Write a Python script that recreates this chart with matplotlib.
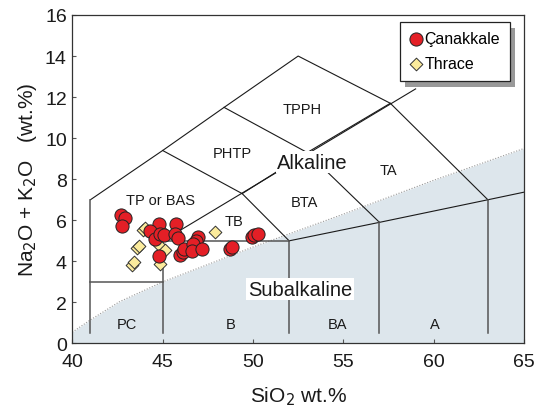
import matplotlib
matplotlib.use("Agg")
import matplotlib.pyplot as plt
from matplotlib.patches import Rectangle

plt.rcParams['font.family'] = ['Liberation Sans', 'DejaVu Sans']

# Data
can_sio2 = [42.68, 42.92, 42.73, 44.80, 44.30, 44.58, 44.85, 45.10, 44.82, 45.72, 45.68,
            45.83, 45.96, 46.14, 46.20, 46.94, 46.85, 46.70, 46.60, 47.16, 48.73, 48.85,
            49.93, 50.07, 50.29]
can_alk = [6.27, 6.11, 5.74, 5.82, 5.46, 5.09, 5.33, 5.28, 4.25, 5.82, 5.33,
           5.12, 4.30, 4.45, 4.62, 5.17, 5.00, 4.85, 4.52, 4.60, 4.60, 4.72,
           5.17, 5.28, 5.33]
thr_sio2 = [43.93, 44.05, 43.60, 43.68, 43.30, 43.42, 44.85, 44.82, 45.13, 45.05, 47.90]
thr_alk = [5.54, 5.62, 4.64, 4.74, 3.82, 3.95, 3.85, 4.80, 4.55, 5.38, 5.45]

# Subalkaline boundary (shaded below)
sub_x = [40, 41, 42.6, 45, 50, 55, 60, 65]
sub_y = [0.55, 1.15, 2.03, 3.0, 4.7, 6.3, 7.95, 9.5]

# TAS field boundaries
upper_lines = [
    ([41, 45, 48.4, 52.5, 57.6, 63], [7, 9.4, 11.5, 14, 11.7, 7]),
    ([45, 49.4, 52], [9.4, 7.3, 5]),
    ([48.4, 53, 57.6], [11.5, 9.3, 11.7]),
    ([49.4, 53], [7.3, 9.3]),
    ([53, 57], [9.3, 5.9]),
    ([45, 59], [5, 12.4]),
    ([52, 57, 63, 65], [5, 5.9, 7, 7.37]),
]
lower_lines = [
    ([41, 41], [7, 0.5]),
    ([41, 45], [3, 3]),
    ([45, 45], [5, 0.5]),
    ([45, 52], [5, 5]),
    ([52, 52], [5, 0.5]),
    ([57, 57], [5.9, 0.5]),
    ([63, 63], [7, 0.5]),
]

field_labels = ["TPPH", "PHTP", "TA", "TP or BAS", "BTA", "TB", "PC", "B", "BA", "A"]
field_x = [52.7, 48.85, 57.5, 44.89, 52.84, 48.93, 43.04, 48.78, 54.67, 60.05]
field_y = [11.4, 9.29, 8.45, 6.98, 6.87, 5.96, 0.97, 0.97, 0.97, 0.97]

fig = plt.figure(figsize=(5.45, 4.10), dpi=100)
ax = fig.add_axes([0.1327, 0.1598, 0.8288, 0.8012])
ax.set_xlim(40, 65)
ax.set_ylim(0, 16)

ax.fill_between(sub_x, sub_y, 0, color='#dde6ec', zorder=0, lw=0)
ax.plot(sub_x, sub_y, color='#999999', lw=0.8, ls=(0, (1, 1.5)), zorder=1)

for xs, ys in upper_lines:
    ax.plot(xs, ys, color='#1a1a1a', lw=0.8, zorder=2)
for xs, ys in lower_lines:
    ax.plot(xs, ys, color='#555555', lw=1.1, zorder=2)

for t, x, y in zip(field_labels, field_x, field_y):
    ax.text(x, y, t, ha='center', va='center', fontsize=10.5, color='#1a1a1a', zorder=3)

ax.text(53.3, 8.82, "Alkaline", ha='center', va='center', fontsize=14.5, color='#1a1a1a',
        zorder=3, bbox=dict(facecolor='white', edgecolor='none', pad=1))
ax.text(52.6, 2.65, "Subalkaline", ha='center', va='center', fontsize=14.5, color='#1a1a1a',
        zorder=3, bbox=dict(facecolor='white', edgecolor='none', pad=1))

ax.scatter(thr_sio2, thr_alk, marker='D', s=42, facecolor='#fbeb9c', edgecolor='#333333',
           linewidths=0.7, zorder=4, label='Thrace')
ax.scatter(can_sio2, can_alk, marker='o', s=90, facecolor='#e41f26', edgecolor='#222222',
           linewidths=0.7, zorder=5, label='Çanakkale')

ax.set_xticks([40, 45, 50, 55, 60, 65])
ax.set_yticks([0, 2, 4, 6, 8, 10, 12, 14, 16])
ax.tick_params(labelsize=14, direction='in', length=3, width=0.8, colors='#555555',
               labelcolor='#1a1a1a')
ax.tick_params(axis='x', pad=7)
ax.tick_params(axis='y', pad=4)
for s in ax.spines.values():
    s.set_linewidth(0.9)
    s.set_color('#333333')

ax.set_xlabel("SiO$_2$ wt.%", fontsize=15, labelpad=10, color='#1a1a1a')
ax.set_ylabel("Na$_2$O + K$_2$O   (wt.%)", fontsize=15, labelpad=4, color='#1a1a1a')

# legend with shadow
h, l = ax.get_legend_handles_labels()
leg = ax.legend(h[::-1], l[::-1], loc='upper right', bbox_to_anchor=(0.968, 0.979),
                fontsize=11.5, frameon=True, fancybox=False, handletextpad=0.15,
                borderpad=0.6, labelspacing=0.6, handlelength=0.8, borderaxespad=0,
                framealpha=1)
leg.get_frame().set_edgecolor('#222222')
leg.get_frame().set_linewidth(0.9)
leg.set_zorder(10)
fig.canvas.draw()
bb = leg.get_window_extent().transformed(ax.transAxes.inverted())
shadow = Rectangle((bb.x0 + 0.013, bb.y0 - 0.02), bb.width, bb.height, transform=ax.transAxes,
                   facecolor='#999999', edgecolor='none', zorder=9)
ax.add_patch(shadow)

fig.savefig("out.png", dpi=100)
